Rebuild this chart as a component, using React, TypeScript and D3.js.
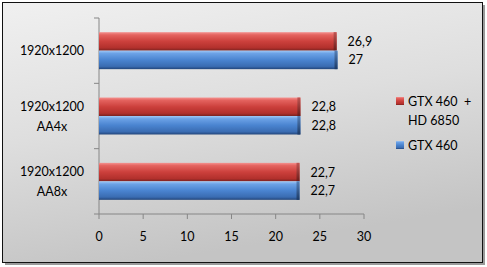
import React from "react";
import * as d3 from "d3";

const categories = ["1920x1200", "1920x1200\nAA4x", "1920x1200\nAA8x"];
const seriesNames = ["GTX 460  +\nHD 6850", "GTX 460"];
const seriesRed = [26.9, 22.8, 22.7];
const seriesBlue = [27, 22.8, 22.7];
const xTicks = [0, 5, 10, 15, 20, 25, 30];

const W = 487;
const H = 267;
const FONT = "Lato, 'Open Sans', sans-serif";
const FS = 12.5;

export default function App() {
  const x = d3.scaleLinear().domain([0, 30]).range([99, 364]);
  const y = d3
    .scaleBand<string>()
    .domain(categories)
    .range([18, 214])
    .paddingInner(0.434)
    .paddingOuter(0.217);
  const inner = d3
    .scaleBand<number>()
    .domain([0, 1])
    .range([0, y.bandwidth()]);
  const series = [seriesRed, seriesBlue];
  const grads = ["gRed", "gBlue"];
  const fmt = (v: number) => String(v).replace(".", ",");

  return (
    <svg
      width={W}
      height={H}
      style={{ position: "absolute", left: 0, top: 0 }}
      fontFamily={FONT}
    >
      <defs>
        <linearGradient id="bg" x1="0" y1="0" x2="0.3" y2="1">
          <stop offset="0" stopColor="#f0f0f0" />
          <stop offset="0.5" stopColor="#dedede" />
          <stop offset="1" stopColor="#c4c4c4" />
        </linearGradient>
        <linearGradient id="gRed" x1="0" y1="0" x2="0" y2="1">
          <stop offset="0" stopColor="#f49290" />
          <stop offset="0.15" stopColor="#e4635f" />
          <stop offset="0.5" stopColor="#cc403c" />
          <stop offset="0.85" stopColor="#b2302c" />
          <stop offset="1" stopColor="#7a2220" />
        </linearGradient>
        <linearGradient id="gBlue" x1="0" y1="0" x2="0" y2="1">
          <stop offset="0" stopColor="#a0c8f6" />
          <stop offset="0.15" stopColor="#6ca2e6" />
          <stop offset="0.5" stopColor="#4a84d0" />
          <stop offset="0.85" stopColor="#3a6cb2" />
          <stop offset="1" stopColor="#22457a" />
        </linearGradient>
        <linearGradient id="capRed" x1="0" y1="0" x2="0" y2="1">
          <stop offset="0" stopColor="#c05552" />
          <stop offset="1" stopColor="#6a1c1a" />
        </linearGradient>
        <linearGradient id="capBlue" x1="0" y1="0" x2="0" y2="1">
          <stop offset="0" stopColor="#5580b8" />
          <stop offset="1" stopColor="#1c3a66" />
        </linearGradient>
      </defs>
      <rect x={5} y={5} width={480} height={260} fill="#9a9a9a" />
      <rect x={2.5} y={2.5} width={480} height={260} fill="url(#bg)" stroke="#111" strokeWidth={1} />

      {/* axes */}
      <line x1={x(0)} x2={x(0)} y1={18} y2={214} stroke="#868686" />
      {[0, 1, 2, 3].map((i) => {
        const ty = 18 + (i * (214 - 18)) / 3;
        return <line key={i} x1={x(0) - 5} x2={x(0)} y1={ty} y2={ty} stroke="#868686" />;
      })}
      <line x1={x(0)} x2={x(30)} y1={214} y2={214} stroke="#868686" />
      {xTicks.map((t) => (
        <g key={t}>
          <line x1={x(t)} x2={x(t)} y1={214} y2={219} stroke="#868686" />
          <text x={x(t)} y={241} textAnchor="middle" fontSize={FS} fill="#000">
            {t}
          </text>
        </g>
      ))}

      {/* category labels */}
      {categories.map((c) => {
        const lines = c.split("\n");
        const cy = (y(c) as number) + y.bandwidth() / 2;
        return (
          <text key={c} textAnchor="middle" fontSize={FS} fill="#000">
            {lines.map((l, i) => (
              <tspan key={i} x={52} y={cy + 4.5 + (i - (lines.length - 1) / 2) * 20}>
                {l}
              </tspan>
            ))}
          </text>
        );
      })}

      {/* bars */}
      {categories.map((c, ci) =>
        series.map((s, si) => {
          const by = (y(c) as number) + (inner(si) as number);
          const bh = inner.bandwidth();
          const bw = x(s[ci]) - x(0);
          return (
            <g key={c + si}>
              <rect x={x(0)} y={by} width={bw} height={bh} fill={`url(#${grads[si]})`} />
              <rect
                x={x(0) + bw - 3}
                y={by}
                width={3}
                height={bh}
                fill={si === 0 ? "url(#capRed)" : "url(#capBlue)"}
              />
              <text x={x(s[ci]) + 11} y={by + bh / 2 + 4.5} fontSize={FS} fill="#000">
                {fmt(s[ci])}
              </text>
            </g>
          );
        })
      )}

      {/* legend */}
      {seriesNames.map((n, si) => {
        const ly = si === 0 ? 101 : 145;
        const lines = n.split("\n");
        return (
          <g key={n}>
            <rect x={396} y={ly - 4} width={8} height={8} fill={`url(#${grads[si]})`} />
            <text fontSize={FS} fill="#000" style={{ whiteSpace: "pre" }}>
              {lines.map((l, i) => (
                <tspan key={i} x={408} y={ly + 4.5 + i * 19}>
                  {l}
                </tspan>
              ))}
            </text>
          </g>
        );
      })}
    </svg>
  );
}
